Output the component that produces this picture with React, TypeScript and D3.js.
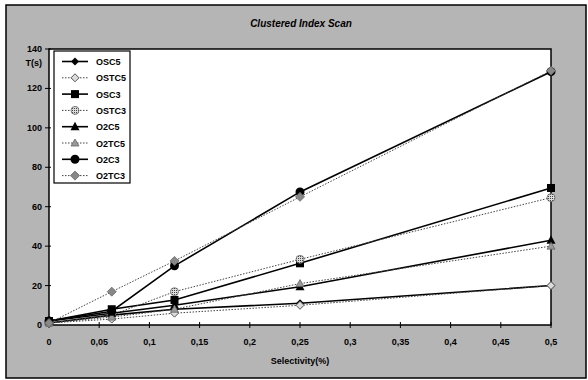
import React from "react";
import * as d3 from "d3";

const selectivity = [0, 0.0625, 0.125, 0.25, 0.5];
const xTicks = [0, 0.05, 0.1, 0.15, 0.2, 0.25, 0.3, 0.35, 0.4, 0.45, 0.5];
const xTickLabels = ["0", "0,05", "0,1", "0,15", "0,2", "0,25", "0,3", "0,35", "0,4", "0,45", "0,5"];
const yTicks = [0, 20, 40, 60, 80, 100, 120, 140];

const seriesNames = ["OSC5", "OSTC5", "OSC3", "OSTC3", "O2C5", "O2TC5", "O2C3", "O2TC3"];
const OSC5 = [1, 5, 8, 11, 20];
const OSTC5 = [1, 3, 6, 10, 20];
const OSC3 = [2, 8, 12.7, 31.3, 69.5];
const OSTC3 = [1, 5, 16.9, 33.3, 64.6];
const O2C5 = [2, 6, 10, 19.4, 43];
const O2TC5 = [1, 4, 8, 21, 40];
const O2C3 = [2, 7, 30, 67.5, 128.5];
const O2TC3 = [1, 16.9, 32.5, 65, 129];
const seriesValues = [OSC5, OSTC5, OSC3, OSTC3, O2C5, O2TC5, O2C3, O2TC3];
const seriesDotted = [false, true, false, true, false, true, false, true];
const seriesMarker = ["diamond", "diamondOpen", "square", "hatch", "triangle", "triangleGray", "circle", "diamondGray"];

const W = 588, H = 380;
const L = 49, R = 551, T = 49, B = 325;

function Marker({ kind, x, y }: { kind: string; x: number; y: number }) {
  switch (kind) {
    case "diamond":
      return <path d={`M${x},${y - 4}L${x + 4},${y}L${x},${y + 4}L${x - 4},${y}Z`} fill="#000" />;
    case "diamondOpen":
      return <path d={`M${x},${y - 4}L${x + 4},${y}L${x},${y + 4}L${x - 4},${y}Z`} fill="#ddd" stroke="#555" strokeWidth={1} />;
    case "square":
      return <rect x={x - 4} y={y - 4} width={8} height={8} fill="#000" />;
    case "hatch":
      return <circle cx={x} cy={y} r={4} fill="url(#hatchPat)" stroke="#666" strokeWidth={0.8} />;
    case "triangle":
      return <path d={`M${x},${y - 5}L${x + 4.5},${y + 3.5}L${x - 4.5},${y + 3.5}Z`} fill="#000" />;
    case "triangleGray":
      return <path d={`M${x},${y - 4}L${x + 4},${y + 3}L${x - 4},${y + 3}Z`} fill="#999" stroke="#666" strokeWidth={0.8} />;
    case "circle":
      return <circle cx={x} cy={y} r={4.5} fill="#000" />;
    case "diamondGray":
      return <path d={`M${x},${y - 4.5}L${x + 4.5},${y}L${x},${y + 4.5}L${x - 4.5},${y}Z`} fill="#888" stroke="#666" strokeWidth={0.8} />;
  }
  return null;
}

export default function App() {
  const xs = d3.scaleLinear().domain([0, 0.5]).range([L, R]);
  const ys = d3.scaleLinear().domain([0, 140]).range([B, T]);
  const line = d3.line<number>().x((_, i) => xs(selectivity[i])).y((d) => ys(d));
  const font = "'Liberation Sans', Arial, sans-serif";

  const legX = 54, legY = 51, legW = 76, legRow = 16.3;

  return (
    <svg width={W} height={H} style={{ position: "absolute", left: 0, top: 0 }} fontFamily={font}>
      <defs>
        <pattern id="hatchPat" width={2} height={2} patternUnits="userSpaceOnUse">
          <rect width={2} height={2} fill="#ddd" />
          <rect width={1} height={1} fill="#444" />
        </pattern>
      </defs>
      <rect x={0} y={0} width={W} height={H} fill="#fff" />
      <rect x={6} y={5} width={580} height={373} fill="#b5b5b5" stroke="#000" strokeWidth={1.5} />
      <text x={301} y={27} textAnchor="middle" fontSize={10} fontWeight="bold" fontStyle="italic">Clustered Index Scan</text>

      <rect x={L} y={T} width={R - L} height={B - T} fill="#fff" stroke="#000" strokeWidth={1.5} />

      {yTicks.map((t) => (
        <g key={"y" + t}>
          <line x1={L - 4} x2={L + 2} y1={ys(t)} y2={ys(t)} stroke="#000" strokeWidth={1} />
          <text x={42} y={ys(t) + 3} textAnchor="end" fontSize={9} fontWeight="bold">{t}</text>
        </g>
      ))}
      <text x={42} y={66} textAnchor="end" fontSize={9} fontWeight="bold">T(s)</text>

      {xTicks.map((t, i) => (
        <g key={"x" + t}>
          <line x1={xs(t)} x2={xs(t)} y1={B - 3} y2={B + 3} stroke="#000" strokeWidth={1} />
          <text x={xs(t)} y={345} textAnchor="middle" fontSize={9} fontWeight="bold">{xTickLabels[i]}</text>
        </g>
      ))}
      <text x={300} y={364} textAnchor="middle" fontSize={9} fontWeight="bold">Selectivity(%)</text>

      {seriesValues.map((vals, si) => (
        <path key={"l" + si} d={line(vals) || ""} fill="none"
          stroke={seriesDotted[si] ? "#444" : "#000"}
          strokeWidth={seriesDotted[si] ? 1 : 1.6}
          strokeDasharray={seriesDotted[si] ? "1.5,1.5" : undefined} />
      ))}
      {seriesValues.map((vals, si) =>
        vals.map((v, i) => <Marker key={"m" + si + "-" + i} kind={seriesMarker[si]} x={xs(selectivity[i])} y={ys(v)} />)
      )}

      <rect x={legX} y={legY} width={legW} height={132} fill="#fff" stroke="#000" strokeWidth={1.2} />
      {seriesNames.map((n, i) => {
        const cy = legY + 10.5 + i * legRow;
        return (
          <g key={"lg" + n}>
            <line x1={62} x2={88} y1={cy} y2={cy}
              stroke={seriesDotted[i] ? "#444" : "#000"}
              strokeWidth={seriesDotted[i] ? 1 : 1.6}
              strokeDasharray={seriesDotted[i] ? "1.5,1.5" : undefined} />
            <Marker kind={seriesMarker[i]} x={75} y={cy} />
            <text x={96} y={cy + 3.5} fontSize={9} fontWeight="bold">{n}</text>
          </g>
        );
      })}
    </svg>
  );
}
